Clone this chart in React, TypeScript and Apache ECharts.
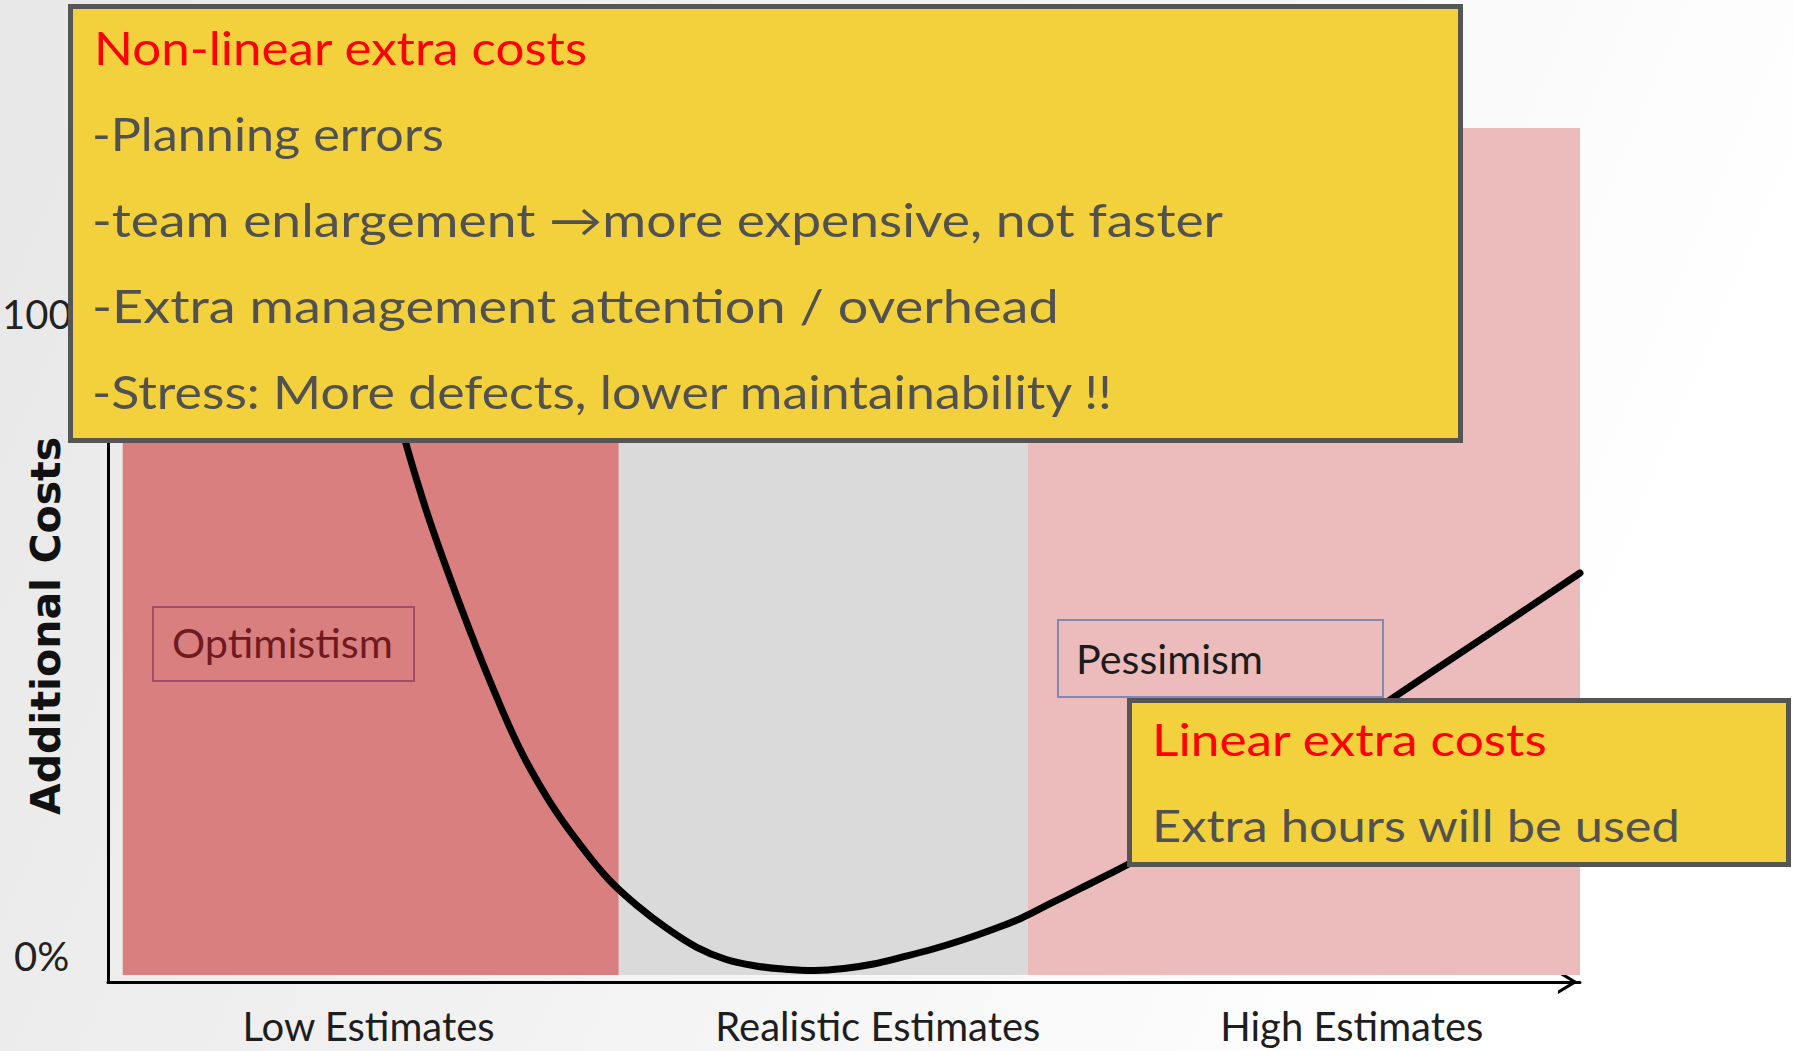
import React, { useEffect, useRef } from 'react';
import * as echarts from 'echarts';

// ---------- data ----------
const categories = ['Low Estimates', 'Realistic Estimates', 'High Estimates'];
const categoryPositions = [17.7, 52.3, 84.5];

const bandStart = [1.0, 34.7, 62.5];
const bandEnd = [34.7, 62.5, 100];
const bandBottom = -2.9;
const bandTop = 129;

const yTickValues = [0, 100];
const yTickLabels = ['0%', '100%'];
const yAxisTitle = 'Additional Costs';

const curveX = [17, 18.5, 20, 21.5, 23, 24.5, 26, 28, 30, 32, 34, 36, 38, 40, 42, 44, 46, 48, 50, 52, 54, 56, 58, 60, 62, 64, 66, 68, 70, 75, 80, 85, 90, 95, 100];
const curveY = [119, 96.4, 81.9, 70.3, 60.4, 51.2, 42.6, 32.2, 24.1, 17.6, 12.0, 7.8, 4.3, 1.4, -0.5, -1.5, -2.0, -2.2, -1.9, -1.2, -0.1, 1.1, 2.5, 4.1, 5.9, 8.2, 10.5, 12.8, 15.2, 21.7, 28.9, 36.7, 44.4, 52.0, 59.7];

const nonLinearTitle = 'Non-linear extra costs';
const nonLinearItems = [
  '-Planning errors',
  '-team enlargement \u2192more expensive, not faster',
  '-Extra management attention / overhead',
  '-Stress: More defects, lower maintainability !!',
];
const linearTitle = 'Linear extra costs';
const linearItems = ['Extra hours will be used'];
const regionNotes = ['Optimistism', 'Pessimism'];

// ---------- layout (styles / positions) ----------
const W = 1793;
const H = 1051;
const LATO_CENTRAL = 0.387;
const bigTitleSpec = { left: 94, baseline: 65, width: 494, size: 46 };
const bigItemSpecs = [
  { left: 92, baseline: 151, width: 352, size: 46 },
  { left: 92, baseline: 237, width: 1131, size: 46 },
  { left: 92, baseline: 323, width: 967, size: 46 },
  { left: 92, baseline: 409, width: 1023, size: 46 },
];
const smallTitleSpec = { left: 1152, baseline: 756, width: 396, size: 44 };
const smallItemSpecs = [{ left: 1152, baseline: 842, width: 529, size: 45 }];
const noteSpecs = [
  { left: 172, baseline: 658, width: 221, size: 40 },
  { left: 1076, baseline: 674, width: 187, size: 40 },
];
const noteColors = ['#701a1f', '#1c1c1c'];
const bandColors = ['#d97f7f', '#dadada', '#ecbcbc'];

export default function App() {
  const ref = useRef<HTMLDivElement>(null);

  useEffect(() => {
    if (!ref.current) return;
    const chart = echarts.init(ref.current, null, { renderer: 'svg' });
    const ctx = document.createElement('canvas').getContext('2d') as CanvasRenderingContext2D;

    const fitted = (text: string, spec: any, fill: string, z = 110) => {
      ctx.font = `normal ${spec.size}px Lato`;
      const w = ctx.measureText(text).width || 1;
      return {
        type: 'text',
        z,
        silent: true,
        x: spec.left,
        y: spec.baseline - LATO_CENTRAL * spec.size,
        scaleX: spec.width / w,
        scaleY: 1,
        style: {
          text,
          x: 0,
          y: 0,
          fill,
          fontSize: spec.size,
          fontFamily: 'Lato',
          fontWeight: 'normal',
          align: 'left',
          verticalAlign: 'middle',
        },
      };
    };

    const curveData = curveX.map((x, i) => [x, curveY[i]]);
    const bandData = bandStart.map((s, i) => [
      { xAxis: s, yAxis: bandBottom, itemStyle: { color: bandColors[i] } },
      { xAxis: bandEnd[i], yAxis: bandTop },
    ]);

    const nearest = (arr: number[], v: number) => {
      let bi = 0;
      arr.forEach((a, i) => {
        if (Math.abs(a - v) < Math.abs(arr[bi] - v)) bi = i;
      });
      return bi;
    };

    const graphics: any[] = [
      // region note boxes
      {
        type: 'rect', z: 95, silent: true,
        shape: { x: 153, y: 607, width: 261, height: 74 },
        style: { fill: 'transparent', stroke: '#a24d68', lineWidth: 2 },
      },
      {
        type: 'rect', z: 95, silent: true,
        shape: { x: 1058, y: 620, width: 325, height: 77 },
        style: { fill: 'transparent', stroke: '#8189b3', lineWidth: 2 },
      },
      fitted(regionNotes[0], noteSpecs[0], noteColors[0], 96),
      fitted(regionNotes[1], noteSpecs[1], noteColors[1], 96),
      // big yellow box
      {
        type: 'rect', z: 100, silent: true,
        shape: { x: 70.5, y: 6.5, width: 1390, height: 434 },
        style: { fill: '#f2d13c', stroke: '#555555', lineWidth: 5 },
      },
      fitted(nonLinearTitle, bigTitleSpec, '#ff0000'),
      ...nonLinearItems.map((t, i) => fitted(t, bigItemSpecs[i], '#515151')),
      // small yellow box
      {
        type: 'rect', z: 100, silent: true,
        shape: { x: 1129.5, y: 700.5, width: 659, height: 164 },
        style: { fill: '#f2d13c', stroke: '#555555', lineWidth: 5 },
      },
      fitted(linearTitle, smallTitleSpec, '#ff0000'),
      ...linearItems.map((t, i) => fitted(t, smallItemSpecs[i], '#515151')),
      // y axis title
      {
        type: 'text', z: 50, silent: true,
        x: 46, y: 626, rotation: Math.PI / 2,
        style: {
          text: yAxisTitle, x: 0, y: 0, fill: '#111111',
          fontSize: 41, fontFamily: 'DejaVu Sans', fontWeight: 'bold',
          align: 'center', verticalAlign: 'middle',
        },
      },
    ];

    const option: any = {
      animation: false,
      backgroundColor: {
        type: 'linear', x: 0, y: 0, x2: 1, y2: 0.25,
        colorStops: [
          { offset: 0, color: '#e7e7e7' },
          { offset: 0.5, color: '#f2f2f2' },
          { offset: 1, color: '#ffffff' },
        ],
      },
      grid: { left: 108, top: 128, right: W - 1580, bottom: H - 982, outerBoundsMode: 'none', containLabel: false },
      xAxis: {
        type: 'value', min: 0, max: 100,
        axisLine: {
          show: true,
          onZero: false,
          lineStyle: { color: '#000000', width: 3 },
          symbol: ['none', 'path://M12,0 L24,20 L20.5,20 L12,6 L3.5,20 L0,20 Z'],
          symbolSize: [24, 20],
          symbolOffset: [0, -12],
        },
        axisTick: { show: false },
        splitLine: { show: false },
        axisLabel: {
          customValues: categoryPositions,
          formatter: (v: number) => categories[nearest(categoryPositions, v)],
          fontSize: 40, fontFamily: 'Lato', color: '#1e1e1e', margin: 24,
        },
      },
      yAxis: {
        type: 'value', min: -4, max: 129,
        axisLine: { show: true, onZero: false, lineStyle: { color: '#000000', width: 3 } },
        axisTick: { show: false },
        splitLine: { show: false },
        axisLabel: {
          customValues: yTickValues,
          align: 'left',
          margin: 106,
          formatter: (v: number) => {
            const i = nearest(yTickValues, v);
            return i === 0 ? `{a|${yTickLabels[i]}}` : `{b|${yTickLabels[i]}}`;
          },
          rich: {
            a: { fontSize: 40, fontFamily: 'Lato', color: '#222222', padding: [0, 0, 0, 12] },
            b: { fontSize: 40, fontFamily: 'Lato', color: '#222222' },
          },
        },
      },
      series: [
        {
          type: 'line', z: 1, silent: true, data: [],
          markArea: { silent: true, label: { show: false }, data: bandData },
        },
        {
          type: 'line', z: 3, silent: true, symbol: 'none',
          smooth: 0.4,
          lineStyle: { color: '#000000', width: 7, cap: 'round', join: 'round' },
          data: curveData,
        },
      ],
      graphic: graphics,
    };

    chart.setOption(option);
    return () => chart.dispose();
  }, []);

  return <div ref={ref} style={{ position: 'absolute', left: 0, top: 0, width: W, height: H }} />;
}
